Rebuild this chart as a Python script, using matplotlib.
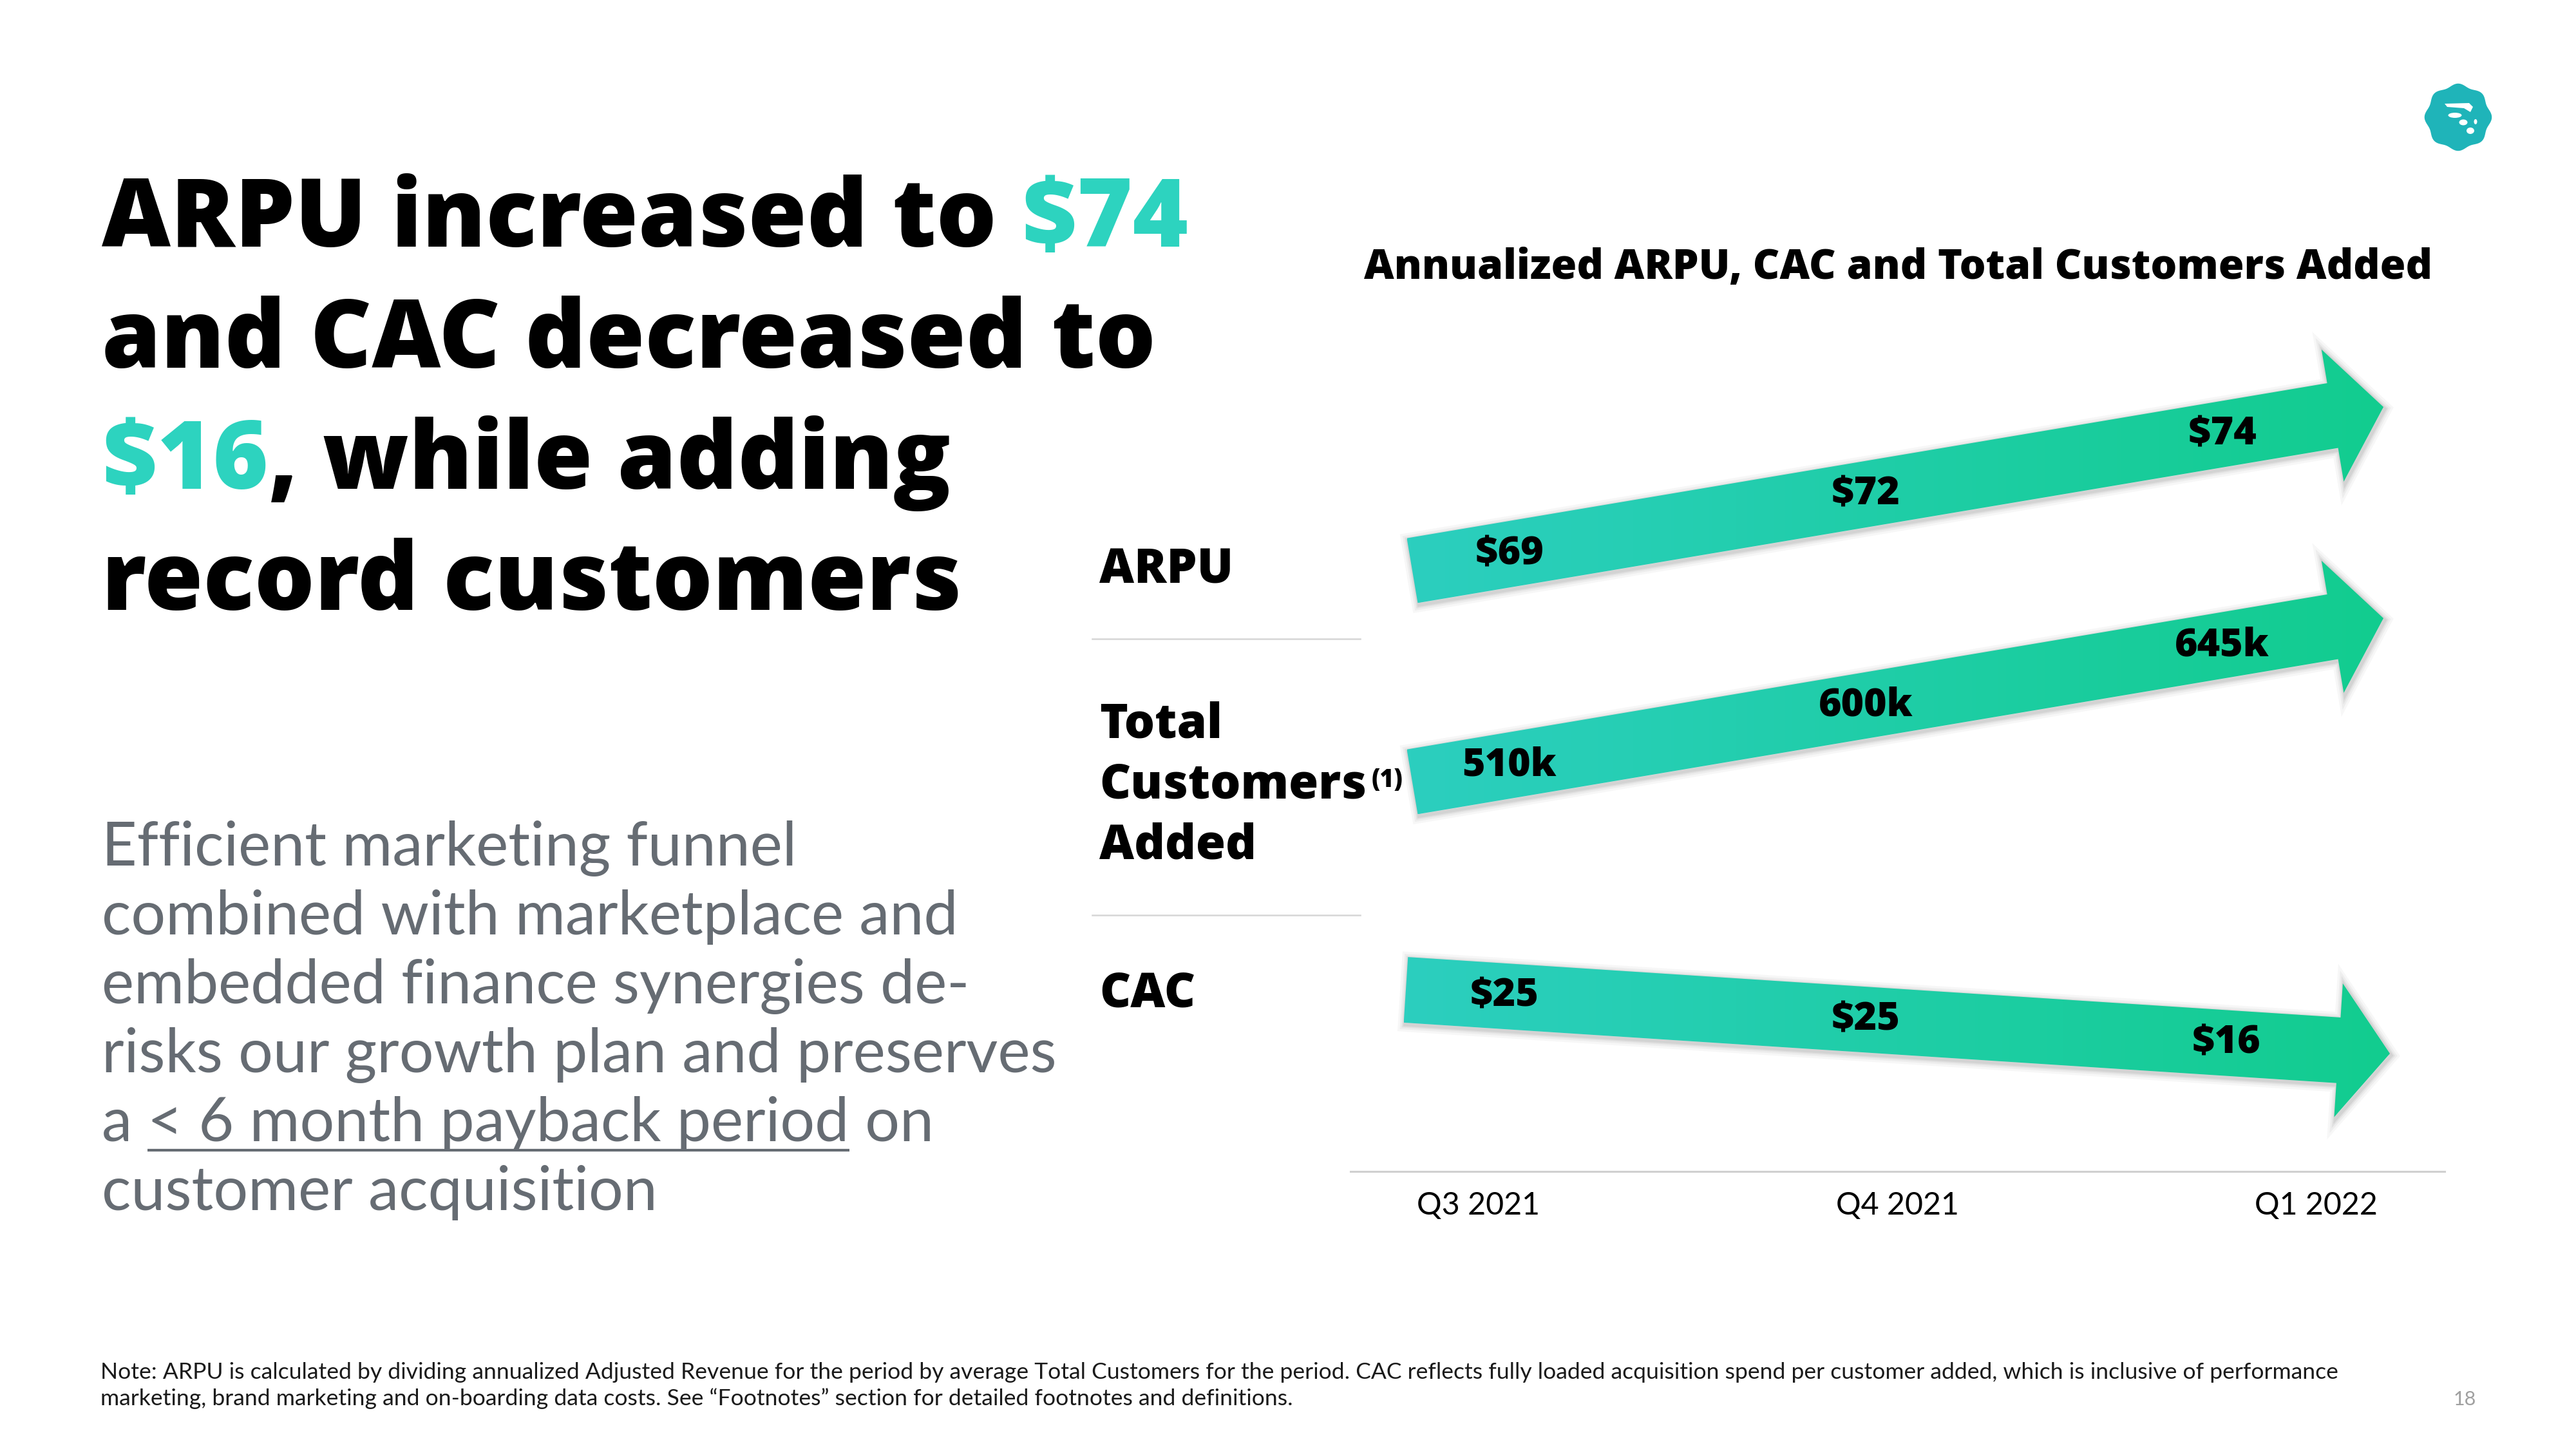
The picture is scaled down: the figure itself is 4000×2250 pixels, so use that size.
import numpy as np
import matplotlib
matplotlib.use('Agg')
import matplotlib.pyplot as plt
from matplotlib.patches import Polygon, Ellipse
from matplotlib.colors import LinearSegmentedColormap


# dados

periods     = ['Q3 2021', 'Q4 2021', 'Q1 2022']
arpu        = [69, 72, 74]
customers_k = [510, 600, 645]
cac         = [25, 25, 16]

arpu_lbl = [f'${v}' for v in arpu]
cust_lbl = [f'{v}k' for v in customers_k]
cac_lbl  = [f'${v}' for v in cac]


# estilo

TEAL      = '#2dd3bf'
BLACK     = '#000000'
GRAY_TXT  = '#666c73'
LINE_GRAY = '#d6d6d6'
LOGO      = '#1fb4b9'
grad_cmap = LinearSegmentedColormap.from_list('g', ['#2ccfbf', '#12cc8f'])

HEAVY = ['Open Sans', 'DejaVu Sans']
plt.rcParams['font.family'] = ['Lato', 'DejaVu Sans']

W, H = 4000, 2250
fig = plt.figure(figsize=(40, 22.5), dpi=100)
ax = fig.add_axes([0, 0, 1, 1])
ax.set_xlim(0, W)
ax.set_ylim(H, 0)
ax.axis('off')
renderer = fig.canvas.get_renderer()


def width(s, **kw):
    t = ax.text(0, 0, s, **kw)
    w = t.get_window_extent(renderer).width
    t.remove()
    return w


def fit(s, target, size, **kw):
    # ajusta o tamanho da fonte para a largura medida na referencia
    return size * target / width(s, fontsize=size, **kw)


def runs(x, y, parts, **kw):
    out = []
    prefix = ''
    for s, c in parts:
        dx = width(prefix + 'I', **kw) - width('I', **kw) if prefix else 0
        t = ax.text(x + dx, y, s, color=c, va='baseline', ha='left', **kw)
        out.append(t)
        prefix += s
    return out


# titulo principal

tkw = dict(fontweight='heavy', family=HEAVY)
tkw['fontsize'] = 0.99 * fit('ARPU increased to ' + arpu_lbl[-1], 1704, 110, **tkw)
title_lines = [
    [('ARPU increased to ', BLACK), (arpu_lbl[-1], TEAL)],
    [('and CAC decreased to', BLACK)],
    [(cac_lbl[-1], TEAL), (', while adding', BLACK)],
    [('record customers', BLACK)],
]
for i, parts in enumerate(title_lines):
    runs(158, 383 + 188 * i, parts, **tkw)


# texto lateral

bkw = dict(fontweight='normal')
bkw['fontsize'] = fit('risks our growth plan and preserves', 1482, 70, **bkw)
body = [
    [('Efficient marketing funnel', GRAY_TXT)],
    [('combined with marketplace and', GRAY_TXT)],
    [('embedded finance synergies de-', GRAY_TXT)],
    [('risks our growth plan and preserves', GRAY_TXT)],
    [('a ', GRAY_TXT), ('< 6 month payback period', GRAY_TXT), (' on', GRAY_TXT)],
    [('customer acquisition', GRAY_TXT)],
]
for i, parts in enumerate(body):
    y = 1344 + 107 * i
    ts = runs(158, y, parts, **bkw)
    if len(parts) == 3:
        bb = ts[1].get_window_extent(renderer)
        ax.plot([bb.x0, bb.x1], [y + 14, y + 14], color=GRAY_TXT, lw=3,
                solid_capstyle='butt')


# titulo do grafico

ckw = dict(fontweight='heavy', family=HEAVY)
chart_title = 'Annualized ARPU, CAC and Total Customers Added'
ax.text(2948, 416, chart_title, ha='center', va='center', color=BLACK,
        fontsize=fit(chart_title, 1661, 50, **ckw), **ckw)


# rotulos das linhas

rkw = dict(fontweight='heavy', family=HEAVY)
rsize = fit('Customers', 415, 56, **rkw)
lkw = dict(fontsize=rsize, color=BLACK, va='baseline', ha='left', **rkw)
ax.text(1707, 906, 'ARPU', **lkw)
ax.text(1707, 1145, 'Total', **lkw)
t = ax.text(1707, 1240, 'Customers', **lkw)
bb = t.get_window_extent(renderer)
ax.text(bb.x1 + 8, 1222, '(1)', fontsize=27, color=BLACK,
        va='baseline', ha='left', **rkw)
ax.text(1707, 1334, 'Added', **lkw)
ax.text(1707, 1564, 'CAC', **lkw)

for y in [992, 1421]:
    ax.plot([1696, 2112], [y, y], color=LINE_GRAY, lw=1.8)


# setas

def arrow_poly(x0, y0, x1, y1, shaft=51, head=104, head_len=80):
    L = np.hypot(x1 - x0, y1 - y0)
    ux, uy = (x1 - x0) / L, (y1 - y0) / L
    nx, ny = -uy, ux
    local = [(0, -shaft), (L - head_len, -shaft), (L - head_len, -head), (L, 0),
             (L - head_len, head), (L - head_len, shaft), (0, shaft)]
    return np.array([(x0 + a * ux + b * nx, y0 + a * uy + b * ny) for a, b in local])


arrows = [
    ((2193, 886), (3701, 632), arpu_lbl),
    ((2193, 1214), (3701, 960), cust_lbl),
    ((2183, 1537), (3711, 1636), cac_lbl),
]
label_t = [0.10, 0.467, 0.834]
grad = np.linspace(0, 1, 256).reshape(1, -1)
vkw = dict(fontweight='heavy', family=HEAVY)
vsize = fit('$69', 107, 41, **vkw)

for (x0, y0), (x1, y1), labels in arrows:
    pts = arrow_poly(x0, y0, x1, y1)
    # sombra suave
    for lw, a in [(16, 0.05), (11, 0.07), (7, 0.09), (4, 0.12)]:
        ax.add_patch(Polygon(pts + [2, 3], closed=True, fill=False,
                             edgecolor='#707070', lw=lw, alpha=a, zorder=2,
                             joinstyle='miter'))
    poly = Polygon(pts, closed=True, facecolor='none', edgecolor='none', zorder=3)
    ax.add_patch(poly)
    im = ax.imshow(grad, cmap=grad_cmap, aspect='auto', zorder=3,
                   extent=(pts[:, 0].min(), pts[:, 0].max(),
                           pts[:, 1].max(), pts[:, 1].min()))
    im.set_clip_path(poly)
    for tt, lab in zip(label_t, labels):
        ax.text(x0 + tt * (x1 - x0), y0 + tt * (y1 - y0), lab,
                ha='center', va='center', fontsize=vsize,
                color=BLACK, zorder=5, **vkw)


# eixo x

ax.plot([2097, 3796], [1819, 1819], color='#d0d0d0', lw=2.2)
xsize = fit(periods[0], 191, 38)
for i, p in enumerate(periods):
    ax.text(2296 + 650 * i, 1886, p, ha='center', va='baseline',
            fontsize=xsize, color=BLACK)


# logo

th = np.linspace(0, 2 * np.pi, 400)
r = 50 * (1 + 0.045 * np.cos(8 * th))
ax.fill(3817 + r * np.cos(th), 182 + r * np.sin(th), color=LOGO, lw=0, zorder=4)
ax.fill([3796, 3834, 3840, 3836, 3826, 3800], [161, 160, 166, 174, 168, 166],
        color='white', lw=0, zorder=5)
for cx, cy, w, h in [(3812, 179, 21, 8), (3825, 190, 13, 9),
                     (3836, 203, 12, 10), (3844, 189, 5, 8)]:
    ax.add_patch(Ellipse((cx, cy), w, h, color='white', lw=0, zorder=5))


# rodape

note1 = ('Note: ARPU is calculated by dividing annualized Adjusted Revenue for the '
         'period by average Total Customers for the period. CAC reflects fully loaded '
         'acquisition spend per customer added, which is inclusive of performance')
note2 = ('marketing, brand marketing and on-boarding data costs. See \u201cFootnotes\u201d '
         'section for detailed footnotes and definitions.')
fsize = fit(note1, 3472, 21)
fkw = dict(fontsize=fsize, color='#1a1a1a', va='baseline', ha='left')
ax.text(156, 2141, note1, **fkw)
ax.text(156, 2182, note2, **fkw)
ax.text(3845, 2182, '18', fontsize=22, color='#a0a0a0', va='baseline', ha='right')

ax.set_xlim(0, W)
ax.set_ylim(H, 0)
fig.savefig('out.png', dpi=100, facecolor='white')
